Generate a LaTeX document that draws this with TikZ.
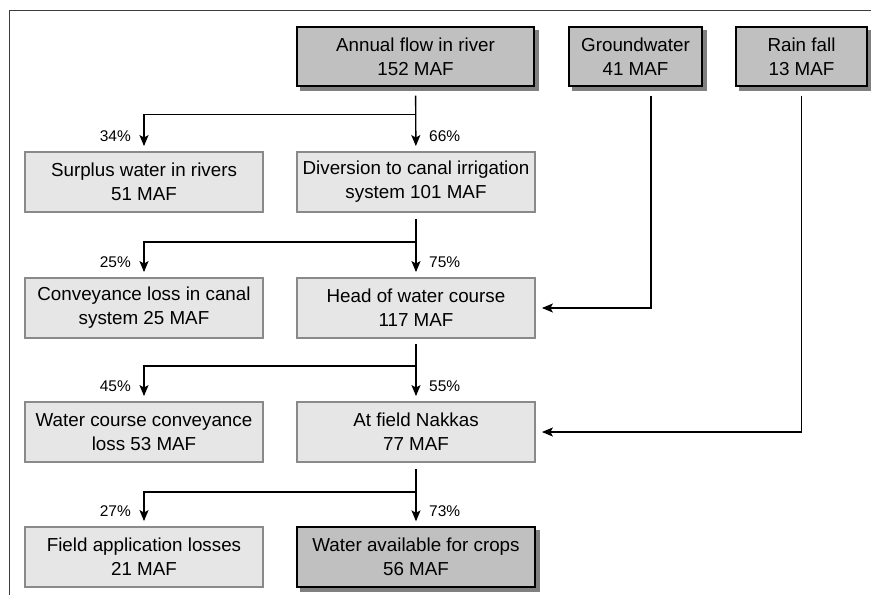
\documentclass[tikz,border=0pt]{standalone}
\usepackage{fontspec}
\setmainfont{Liberation Sans}
\usepackage{tikz}
\usetikzlibrary{arrows.meta,positioning,calc,backgrounds}
\tikzset{
  darkbox/.style={draw=black, line width=1.3pt, fill=srccolor,
    minimum width=237pt, minimum height=59pt, inner sep=0pt, align=center,
    font=\fontsize{18.8}{24}\selectfont},
  lightbox/.style={draw=edgecolor, line width=1.8pt, fill=losscolor,
    minimum width=238pt, minimum height=60pt, inner sep=0pt, align=center,
    font=\fontsize{18.8}{24}\selectfont},
  flowln/.style={-{Stealth[length=11pt,width=9pt,inset=2.5pt]}, line width=1.4pt,
    shorten >=5pt},
  pctl/.style={anchor=east, inner sep=0pt, font=\fontsize{15.5}{18}\selectfont},
  pctr/.style={anchor=west, inner sep=0pt, font=\fontsize{15.5}{18}\selectfont},
}
\definecolor{srccolor}{RGB}{192,192,192}
\definecolor{losscolor}{RGB}{230,230,230}
\definecolor{edgecolor}{RGB}{138,138,138}
\definecolor{shadecolor}{RGB}{128,128,128}
\definecolor{framecolor}{RGB}{60,60,60}

\begin{document}
\begin{tikzpicture}[x=1pt, y=-1pt]
    \useasboundingbox (0,0) rectangle (871,595);
    \draw[framecolor, line width=1pt] (871,10) -- (9,10) -- (9,595);
    % sources
    \node[darkbox] (flow) at (415.5,56.5) {Annual flow in river\\152 MAF};
    \node[darkbox, minimum width=133pt] (ground) at (635.5,56.5)
      {Groundwater\\41 MAF};
    \node[darkbox, minimum width=131pt] (rain) at (801.5,56.5)
      {Rain fall\\13 MAF};
    % second row
    \node[lightbox] (surplus) at (144,182) {Surplus water in rivers\\51 MAF};
    \node[lightbox] (divert) at (416,182)
      {Diversion to canal irrigation\\system 101 MAF};
    % third row
    \node[lightbox] (canalloss) at (144,308)
      {Conveyance loss in canal\\system 25 MAF};
    \node[lightbox] (head) at (416,308) {Head of water course\\117 MAF};
    % fourth row
    \node[lightbox] (wcloss) at (144,432)
      {Water course conveyance\\loss 53 MAF};
    \node[lightbox] (nakkas) at (416,432) {At field Nakkas\\77 MAF};
    % fifth row
    \node[lightbox] (fieldloss) at (144,557)
      {Field application losses\\21 MAF};
    \node[darkbox, minimum width=238pt, minimum height=60pt] (crops)
      at (416,557) {Water available for crops\\56 MAF};
    % shadows of the dark boxes
    \begin{scope}[on background layer]
      \foreach \n in {flow,ground,rain,crops}
        \fill[shadecolor] ([shift={(4,4)}]\n.south west)
          rectangle ([shift={(4,4)}]\n.north east);
    \end{scope}
    % junctions
    \coordinate (j1) at ($(flow.south)+(0,28)$);
    \coordinate (j2) at ($(divert.south)+(0,29)$);
    \coordinate (j3) at ($(head.south)+(0,27)$);
    \coordinate (j4) at ($(nakkas.south)+(0,29)$);
    % flows
    \draw[flowln, shorten <=9pt] (flow) -- (divert);
    \draw[flowln] (j1) -| (surplus);
    \draw[flowln, shorten <=6pt] (divert) -- (head);
    \draw[flowln] (j2) -| (canalloss);
    \draw[flowln, shorten <=5pt] (head) -- (nakkas);
    \draw[flowln] (j3) -| (wcloss);
    \draw[flowln, shorten <=6pt] (nakkas) -- (crops);
    \draw[flowln] (j4) -| (fieldloss);
    \draw[flowln, shorten <=9pt, shorten >=6pt]
      ([xshift=15.5pt]ground.south) |- (head.east);
    \draw[flowln, shorten <=9pt, shorten >=6pt] (rain.south) |- (nakkas.east);
    % shares
    \node[pctl] (p34) at ([xshift=-13pt, yshift=15pt]surplus.north) {34\%};
    \node[pctr] (p66) at ([xshift=13pt, yshift=15pt]divert.north) {66\%};
    \node[pctl] (p25) at ([xshift=-13pt, yshift=15pt]canalloss.north) {25\%};
    \node[pctr] (p75) at ([xshift=13pt, yshift=15pt]head.north) {75\%};
    \node[pctl] (p45) at ([xshift=-13pt, yshift=15pt]wcloss.north) {45\%};
    \node[pctr] (p55) at ([xshift=13pt, yshift=15pt]nakkas.north) {55\%};
    \node[pctl] (p27) at ([xshift=-13pt, yshift=15pt]fieldloss.north) {27\%};
    \node[pctr] (p73) at ([xshift=13pt, yshift=15pt]crops.north) {73\%};
\end{tikzpicture}
\end{document}
